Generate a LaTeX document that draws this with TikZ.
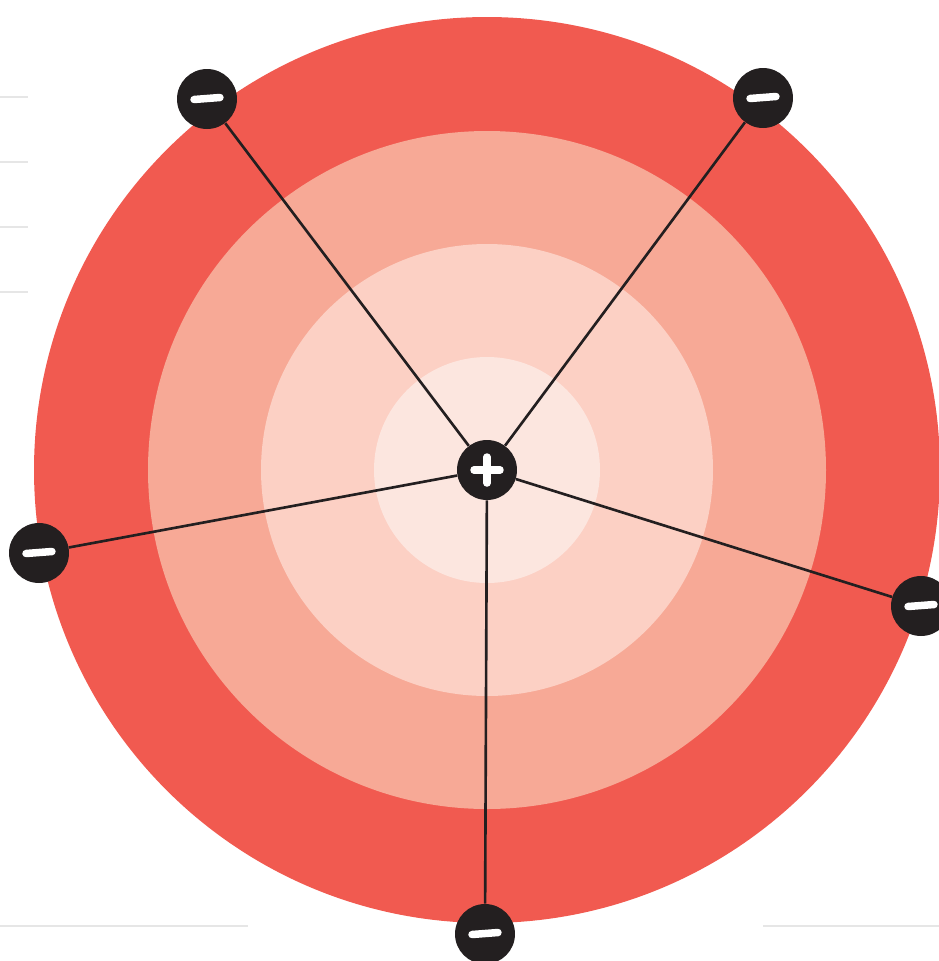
\documentclass[tikz,border=0pt]{standalone}
\definecolor{ringA}{HTML}{F15A50}
\definecolor{ringB}{HTML}{F7A996}
\definecolor{ringC}{HTML}{FCD0C4}
\definecolor{ringD}{HTML}{FCE6DF}
\definecolor{ink}{HTML}{231F20}
\definecolor{rule}{HTML}{E6E6E6}
\begin{document}
\begin{tikzpicture}[x=0.02cm, y=-0.02cm,
  charge/.style={circle, fill=ink, minimum size=1.2cm, inner sep=0pt},
  minus/.style={charge, path picture={
      \draw[white, line width=0.15cm, line cap=round]
        ([xshift=-0.26cm,yshift=-0.01cm]path picture bounding box.center) --
        ([xshift=0.26cm,yshift=0.03cm]path picture bounding box.center);}},
  plus/.style={charge, path picture={
      \draw[white, line width=0.15cm, line cap=round]
        ([xshift=-0.26cm]path picture bounding box.center) --
        ([xshift=0.26cm]path picture bounding box.center);
      \draw[white, line width=0.15cm, line cap=round]
        ([yshift=-0.26cm]path picture bounding box.center) --
        ([yshift=0.26cm]path picture bounding box.center);}},
  bond/.style={draw=ink, line width=1.5pt},
  guide/.style={draw=rule, line width=0.8pt}]

  \useasboundingbox (0,0) rectangle (939,961);
  \clip (0,0) rectangle (939,961);

  % faint rules
  \foreach \y in {97,162,227,292}
    \draw[guide] (0,\y) -- (28,\y);
  \draw[guide] (0,926) -- (248,926);
  \draw[guide] (763,926) -- (939,926);

  % rings
  \fill[ringA] (487,470) circle (453);
  \fill[ringB] (487,470) circle (339);
  \fill[ringC] (487,470) circle (226);
  \fill[ringD] (487,470) circle (113);

  \node[plus]  (nuc) at (487,470) {};
  \node[minus] (e1)  at (207,99)  {};
  \node[minus] (e2)  at (763,98)  {};
  \node[minus] (e3)  at (39,553)  {};
  \node[minus] (e4)  at (921,606) {};
  \node[minus] (e5)  at (485,934) {};

  \foreach \e in {e1,e2,e3,e4,e5}
    \draw[bond] (nuc) -- (\e);

\end{tikzpicture}
\end{document}
